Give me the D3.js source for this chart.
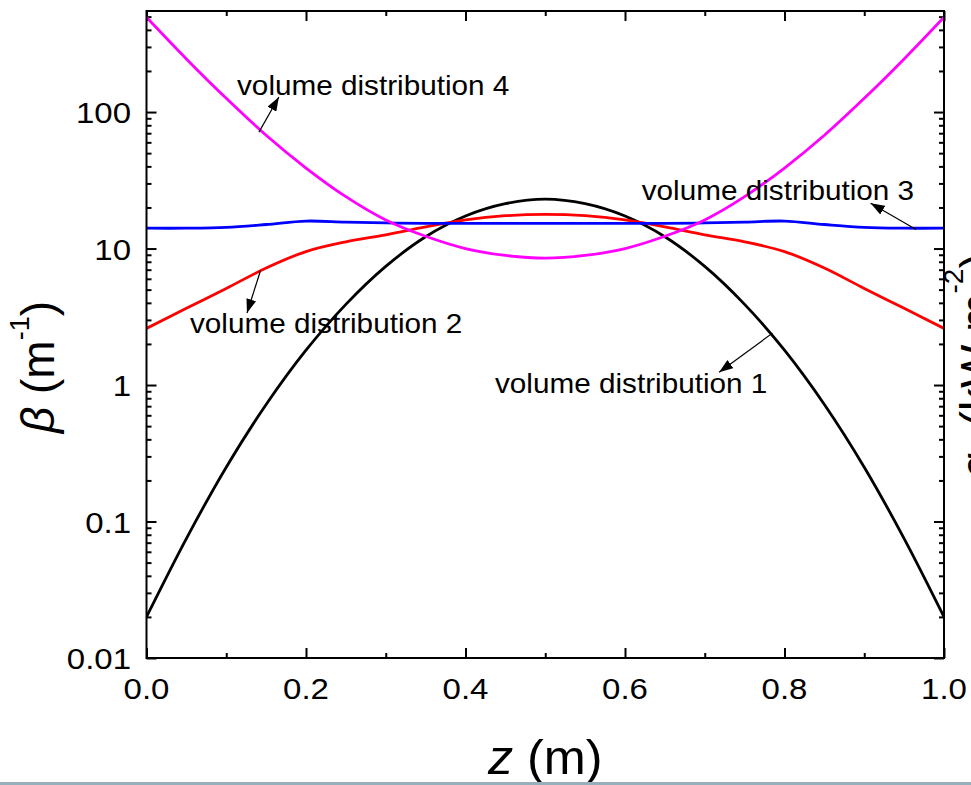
<!DOCTYPE html>
<html>
<head>
<meta charset="utf-8">
<script src="https://cdn.jsdelivr.net/npm/d3@7"></script>
<style>
  html, body { margin: 0; padding: 0; background: #fff; }
  svg { display: block; font-family: Arial, "Liberation Sans", sans-serif; }
</style>
</head>
<body>
<svg id="chart" width="971" height="785"></svg>
<script>
// values, z in m, beta in 1/m
const zVals = [0, 0.05, 0.1, 0.15, 0.2, 0.25, 0.3, 0.35, 0.4, 0.45, 0.5,
               0.55, 0.6, 0.65, 0.7, 0.75, 0.8, 0.85, 0.9, 0.95, 1.0];
const beta1 = [0.02, 0.075, 0.25, 0.72, 1.8, 3.9, 7.4, 12.2, 17.3, 21.3, 23,
               21.3, 17.3, 12.2, 7.4, 3.9, 1.8, 0.72, 0.25, 0.075, 0.02];
const beta2 = [2.6, 3.65, 5.1, 7.2, 9.5, 11.2, 12.6, 14.4, 16.2, 17.4, 17.8,
               17.4, 16.2, 14.4, 12.6, 11.2, 9.5, 7.2, 5.1, 3.65, 2.6];
const beta3 = [14.1, 14.1, 14.3, 15.0, 15.9, 15.6, 15.4, 15.3, 15.3, 15.3, 15.3,
               15.3, 15.3, 15.3, 15.4, 15.6, 15.9, 15.0, 14.3, 14.1, 14.1];
const beta4 = [495, 245, 126, 67.6, 38.9, 24, 16.2, 12.3, 10, 8.9, 8.5,
               8.9, 10, 12.3, 16.2, 24, 38.9, 67.6, 126, 245, 495];
const seriesColors = ['#000000', '#ff0000', '#0000ff', '#ff00ff'];

const xTickLabels = ['0.0', '0.2', '0.4', '0.6', '0.8', '1.0'];
const yTickLabels = ['0.01', '0.1', '1', '10', '100'];

// annotations: label, text start [z, beta], arrow tail on curve, arrow head
const noteLabels = ['volume distribution 1', 'volume distribution 2',
                    'volume distribution 3', 'volume distribution 4'];
const noteText = [[0.437, 0.874], [0.0545, 2.40], [0.621, 22.6], [0.1135, 133]];
const noteTail = [[0.785, 2.40], [0.143, 6.9], [0.965, 13.8], [0.141, 71.3]];
const noteHead = [[0.718, 1.24], [0.126, 3.37], [0.908, 21.5], [0.166, 129]];

const plotL = 146.5, plotR = 944, plotT = 11, plotB = 658;
const svg = d3.select('#chart');

const x = d3.scaleLinear().domain([0, 1]).range([plotL, plotR]);
const y = d3.scaleLog().domain([0.01, 550]).range([plotB, plotT]);

// stretched text helper (reference fonts are a bit wide)
function label(g, px, py, txt, size, anchor, sx) {
  return g.append('text')
      .attr('transform', 'translate(' + px + ',' + py + ') scale(' + sx + ',1)')
      .attr('text-anchor', anchor)
      .style('font-size', size + 'px')
      .text(txt);
}

const defs = svg.append('defs');
defs.append('clipPath').attr('id', 'clip')
  .append('rect')
    .attr('x', plotL).attr('y', plotT)
    .attr('width', plotR - plotL).attr('height', plotB - plotT);

defs.append('marker')
    .attr('id', 'arrow')
    .attr('markerUnits', 'userSpaceOnUse')
    .attr('viewBox', '0 0 14 10')
    .attr('refX', 14).attr('refY', 5)
    .attr('markerWidth', 14).attr('markerHeight', 10)
    .attr('orient', 'auto')
  .append('path')
    .attr('d', 'M0,0 L14,5 L0,10 Z')
    .attr('fill', '#000');

// ticks
const xMajor = [0, 0.2, 0.4, 0.6, 0.8, 1.0];
const xMinor = [0.1, 0.3, 0.5, 0.7, 0.9];
const yMajor = [0.01, 0.1, 1, 10, 100];
const yMinor = [];
yMajor.forEach(d => {
  for (let k = 2; k <= 9; k++) if (d * k <= 550) yMinor.push(d * k);
});

function tickStyle(g) {
  g.select('.domain').remove();
  g.selectAll('.tick line').attr('stroke', '#000').attr('stroke-width', 2);
  g.selectAll('.tick text').remove();
}

svg.append('g').attr('transform', 'translate(0,' + plotB + ')')
  .call(d3.axisBottom(x).tickValues(xMajor).tickSize(-10)).call(tickStyle);
svg.append('g').attr('transform', 'translate(0,' + plotB + ')')
  .call(d3.axisBottom(x).tickValues(xMinor).tickSize(-5)).call(tickStyle);
svg.append('g').attr('transform', 'translate(0,' + plotT + ')')
  .call(d3.axisTop(x).tickValues(xMajor).tickSize(-10)).call(tickStyle);
svg.append('g').attr('transform', 'translate(0,' + plotT + ')')
  .call(d3.axisTop(x).tickValues(xMinor).tickSize(-5)).call(tickStyle);
svg.append('g').attr('transform', 'translate(' + plotL + ',0)')
  .call(d3.axisLeft(y).tickValues(yMajor).tickSize(-10)).call(tickStyle);
svg.append('g').attr('transform', 'translate(' + plotL + ',0)')
  .call(d3.axisLeft(y).tickValues(yMinor).tickSize(-5)).call(tickStyle);
svg.append('g').attr('transform', 'translate(' + plotR + ',0)')
  .call(d3.axisRight(y).tickValues(yMajor).tickSize(-10)).call(tickStyle);
svg.append('g').attr('transform', 'translate(' + plotR + ',0)')
  .call(d3.axisRight(y).tickValues(yMinor).tickSize(-5)).call(tickStyle);

// curves
const line = d3.line()
    .x((d, i) => x(zVals[i]))
    .y(d => y(d))
    .curve(d3.curveCatmullRom.alpha(0.5));

const curves = svg.append('g').attr('clip-path', 'url(#clip)');
[beta1, beta2, beta3, beta4].forEach((s, i) => {
  curves.append('path')
      .attr('d', line(s))
      .attr('fill', 'none')
      .attr('stroke', seriesColors[i])
      .attr('stroke-width', 2.8);
});

// frame
svg.append('rect')
    .attr('x', plotL).attr('y', plotT)
    .attr('width', plotR - plotL).attr('height', plotB - plotT)
    .attr('fill', 'none').attr('stroke', '#000').attr('stroke-width', 2);

// tick labels
const labels = svg.append('g').attr('fill', '#000');
xMajor.forEach((d, i) => label(labels, x(d), 699, xTickLabels[i], 30, 'middle', 1.1));
yMajor.forEach((d, i) => label(labels, 131, y(d) + 11, yTickLabels[i], 30, 'end', 1.1));

// annotations
const notes = svg.append('g');
noteLabels.forEach((t, i) => {
  notes.append('line')
      .attr('x1', x(noteTail[i][0])).attr('y1', y(noteTail[i][1]))
      .attr('x2', x(noteHead[i][0])).attr('y2', y(noteHead[i][1]))
      .attr('stroke', '#000').attr('stroke-width', 1.2)
      .attr('marker-end', 'url(#arrow)');
  label(notes, x(noteText[i][0]), y(noteText[i][1]), t, 27, 'start', 1.1);
});

// axis titles
const zt = svg.append('text')
    .attr('transform', 'translate(' + ((plotL + plotR) / 2) + ',774) scale(1.05,1)')
    .attr('text-anchor', 'middle')
    .style('font-size', '48px');
zt.append('tspan').style('font-style', 'italic').text('z');
zt.append('tspan').text(' (m)');

const bt = svg.append('text')
    .attr('transform', 'translate(54,367) rotate(-90)')
    .attr('text-anchor', 'middle')
    .style('font-size', '46px');
bt.append('tspan').style('font-style', 'italic').text('β');
bt.append('tspan').text(' (m');
bt.append('tspan').attr('dy', -25).style('font-size', '27px').text('-1');
bt.append('tspan').attr('dy', 25).text(')');

// right title is partly outside the picture, as in the reference
const qt = svg.append('text')
    .attr('transform', 'translate(993,366) rotate(-90)')
    .attr('text-anchor', 'middle')
    .style('font-size', '46px');
qt.append('tspan').style('font-style', 'italic').text('q');
qt.append('tspan').attr('dy', 10).style('font-size', '28px').text('s');
qt.append('tspan').attr('dy', -10).text(' (kW m');
qt.append('tspan').attr('dy', -30).style('font-size', '28px').text('-2');
qt.append('tspan').attr('dy', 30).text(')');

// thin band at the bottom edge
svg.append('rect')
    .attr('x', 0).attr('y', 782)
    .attr('width', 971).attr('height', 3)
    .attr('fill', '#97aebb');
</script>
</body>
</html>
